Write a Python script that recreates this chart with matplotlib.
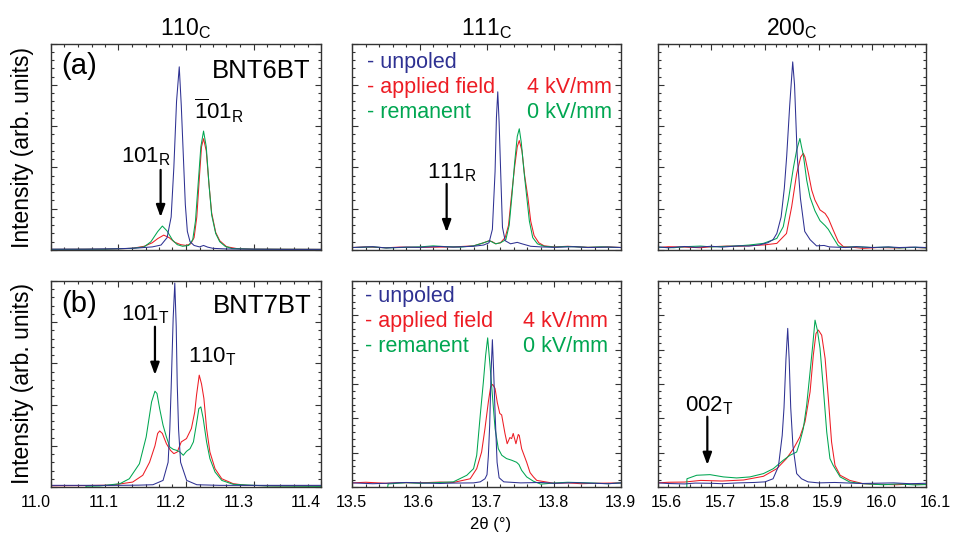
import matplotlib
matplotlib.use('Agg')
import matplotlib.pyplot as plt
from matplotlib.ticker import MultipleLocator, FixedLocator, NullFormatter
from matplotlib.transforms import blended_transform_factory, offset_copy

plt.rcParams['font.family'] = ['Liberation Sans', 'DejaVu Sans']
plt.rcParams['mathtext.fontset'] = 'custom'
plt.rcParams['mathtext.rm'] = 'Liberation Sans'
plt.rcParams['mathtext.it'] = 'Liberation Sans:italic'
plt.rcParams['mathtext.bf'] = 'Liberation Sans:bold'

# ---- (a) BNT6BT, 110c ----
a1_blue_x = [11.00, 11.05, 11.10, 11.13, 11.15, 11.163, 11.172, 11.178, 11.182, 11.186, 11.190, 11.193, 11.196, 11.199, 11.202, 11.206, 11.212, 11.220, 11.226, 11.232, 11.24, 11.26, 11.30, 11.35, 11.40]
a1_blue_y = [0.004, 0.004, 0.006, 0.01, 0.015, 0.024, 0.06, 0.16, 0.40, 0.72, 0.887, 0.70, 0.46, 0.22, 0.09, 0.04, 0.022, 0.015, 0.022, 0.014, 0.008, 0.005, 0.004, 0.003, 0.003]
a1_green_x = [11.00, 11.08, 11.12, 11.138, 11.148, 11.158, 11.165, 11.172, 11.180, 11.187, 11.195, 11.204, 11.210, 11.214, 11.218, 11.222, 11.226, 11.230, 11.234, 11.238, 11.244, 11.250, 11.258, 11.268, 11.30, 11.40]
a1_green_y = [0.003, 0.004, 0.008, 0.015, 0.04, 0.089, 0.116, 0.092, 0.048, 0.026, 0.018, 0.022, 0.05, 0.14, 0.32, 0.50, 0.576, 0.50, 0.32, 0.17, 0.08, 0.04, 0.018, 0.007, 0.004, 0.003]
a1_red_x = [11.00, 11.08, 11.12, 11.138, 11.15, 11.158, 11.167, 11.175, 11.183, 11.192, 11.200, 11.207, 11.212, 11.216, 11.220, 11.223, 11.226, 11.230, 11.234, 11.238, 11.244, 11.250, 11.260, 11.275, 11.30, 11.40]
a1_red_y = [0.003, 0.004, 0.008, 0.018, 0.035, 0.055, 0.072, 0.06, 0.038, 0.026, 0.022, 0.03, 0.06, 0.16, 0.36, 0.50, 0.539, 0.48, 0.32, 0.18, 0.085, 0.045, 0.016, 0.007, 0.004, 0.003]

# ---- (a) 111c ----
a2_blue_x = [13.50, 13.53, 13.55, 13.58, 13.60, 13.63, 13.65, 13.68, 13.695, 13.703, 13.708, 13.712, 13.714, 13.716, 13.718, 13.7205, 13.723, 13.727, 13.735, 13.745, 13.752, 13.765, 13.78, 13.80, 13.83, 13.85, 13.88, 13.90]
a2_blue_y = [0.012, 0.016, 0.010, 0.014, 0.013, 0.017, 0.014, 0.018, 0.024, 0.035, 0.10, 0.38, 0.64, 0.766, 0.62, 0.36, 0.11, 0.045, 0.03, 0.037, 0.03, 0.018, 0.015, 0.013, 0.016, 0.012, 0.014, 0.012]
a2_green_x = [13.50, 13.53, 13.55, 13.58, 13.60, 13.62, 13.64, 13.66, 13.68, 13.695, 13.704, 13.709, 13.713, 13.72, 13.728, 13.733, 13.737, 13.741, 13.745, 13.748, 13.751, 13.755, 13.759, 13.763, 13.768, 13.775, 13.785, 13.80, 13.82, 13.85, 13.87, 13.90]
a2_green_y = [0.012, 0.015, 0.010, 0.013, 0.015, 0.02, 0.016, 0.014, 0.02, 0.035, 0.045, 0.036, 0.03, 0.035, 0.05, 0.12, 0.26, 0.42, 0.55, 0.587, 0.52, 0.38, 0.26, 0.14, 0.06, 0.03, 0.018, 0.014, 0.017, 0.013, 0.015, 0.012]
a2_red_x = [13.50, 13.52, 13.55, 13.57, 13.60, 13.65, 13.68, 13.695, 13.703, 13.708, 13.713, 13.72, 13.727, 13.732, 13.736, 13.741, 13.745, 13.748, 13.752, 13.756, 13.761, 13.765, 13.770, 13.777, 13.785, 13.80, 13.82, 13.85, 13.88, 13.90]
a2_red_y = [0.012, 0.015, 0.011, 0.014, 0.013, 0.015, 0.02, 0.035, 0.045, 0.04, 0.03, 0.035, 0.06, 0.12, 0.25, 0.40, 0.50, 0.53, 0.48, 0.36, 0.25, 0.14, 0.07, 0.035, 0.02, 0.015, 0.018, 0.013, 0.015, 0.012]

# ---- (a) 200c ----
a3_blue_x = [15.60, 15.62, 15.65, 15.67, 15.70, 15.72, 15.75, 15.77, 15.79, 15.805, 15.815, 15.822, 15.830, 15.836, 15.8404, 15.846, 15.8516, 15.855, 15.860, 15.866, 15.874, 15.884, 15.896, 15.91, 15.92, 15.95, 15.97, 16.00, 16.03, 16.05, 16.08, 16.10]
a3_blue_y = [0.015, 0.011, 0.017, 0.013, 0.018, 0.014, 0.02, 0.019, 0.025, 0.035, 0.05, 0.08, 0.16, 0.30, 0.455, 0.70, 0.911, 0.80, 0.455, 0.25, 0.09, 0.05, 0.02, 0.022, 0.015, 0.012, 0.016, 0.012, 0.015, 0.012, 0.014, 0.012]
a3_green_x = [15.60, 15.63, 15.65, 15.68, 15.70, 15.73, 15.75, 15.77, 15.797, 15.822, 15.834, 15.8435, 15.853, 15.859, 15.865, 15.868, 15.8714, 15.8776, 15.884, 15.893, 15.9025, 15.912, 15.918, 15.927, 15.9366, 15.946, 15.97, 16.00, 16.03, 16.05, 16.08, 16.10]
a3_green_y = [0.013, 0.011, 0.016, 0.019, 0.015, 0.018, 0.02, 0.024, 0.032, 0.056, 0.113, 0.242, 0.40, 0.484, 0.54, 0.5, 0.46, 0.339, 0.255, 0.19, 0.142, 0.118, 0.10, 0.06, 0.02, 0.013, 0.016, 0.012, 0.014, 0.010, 0.013, 0.010]
a3_red_x = [15.60, 15.62, 15.65, 15.68, 15.70, 15.73, 15.75, 15.78, 15.80, 15.822, 15.840, 15.8497, 15.859, 15.8665, 15.8714, 15.8745, 15.881, 15.887, 15.893, 15.9025, 15.912, 15.918, 15.927, 15.9366, 15.946, 15.96, 15.983, 16.01, 16.05, 16.07, 16.10]
a3_red_y = [0.012, 0.016, 0.014, 0.011, 0.016, 0.019, 0.018, 0.022, 0.025, 0.032, 0.08, 0.21, 0.37, 0.45, 0.468, 0.45, 0.37, 0.29, 0.242, 0.194, 0.177, 0.153, 0.097, 0.04, 0.016, 0.014, 0.008, 0.012, 0.01, 0.013, 0.01]

# ---- (b) BNT7BT, 110c ----
b1_blue_x = [11.00, 11.05, 11.10, 11.13, 11.151, 11.166, 11.1735, 11.176, 11.178, 11.181, 11.1834, 11.1855, 11.187, 11.189, 11.192, 11.201, 11.216, 11.25, 11.30, 11.40]
b1_blue_y = [0.008, 0.008, 0.008, 0.009, 0.011, 0.032, 0.12, 0.28, 0.48, 0.82, 0.99, 0.78, 0.50, 0.28, 0.12, 0.032, 0.011, 0.008, 0.008, 0.008]
b1_green_x = [11.05, 11.052, 11.072, 11.102, 11.116, 11.131, 11.141, 11.149, 11.154, 11.157, 11.161, 11.166, 11.171, 11.176, 11.181, 11.186, 11.191, 11.196, 11.2007, 11.206, 11.211, 11.2156, 11.219, 11.222, 11.2255, 11.2305, 11.2354, 11.243, 11.253, 11.270, 11.32, 11.40]
b1_green_y = [-0.02, 0.004, 0.005, 0.016, 0.04, 0.113, 0.243, 0.413, 0.465, 0.454, 0.38, 0.30, 0.243, 0.194, 0.183, 0.178, 0.17, 0.154, 0.173, 0.186, 0.219, 0.308, 0.38, 0.389, 0.332, 0.219, 0.138, 0.073, 0.032, 0.013, 0.005, 0.003]
b1_red_x = [11.00, 11.05, 11.09, 11.121, 11.136, 11.146, 11.154, 11.158, 11.161, 11.165, 11.171, 11.177, 11.182, 11.187, 11.193, 11.2007, 11.208, 11.213, 11.2156, 11.2196, 11.223, 11.2265, 11.2305, 11.2354, 11.243, 11.253, 11.270, 11.29, 11.33, 11.40]
b1_red_y = [0.006, 0.007, 0.009, 0.024, 0.057, 0.12, 0.20, 0.26, 0.272, 0.26, 0.21, 0.178, 0.162, 0.17, 0.219, 0.235, 0.284, 0.365, 0.446, 0.543, 0.50, 0.43, 0.284, 0.17, 0.089, 0.04, 0.016, 0.008, 0.006, 0.005]

# ---- (b) 111c ----
b2_blue_x = [13.50, 13.53, 13.55, 13.58, 13.60, 13.63, 13.65, 13.68, 13.69, 13.697, 13.700, 13.702, 13.704, 13.706, 13.708, 13.710, 13.712, 13.715, 13.718, 13.725, 13.75, 13.78, 13.80, 13.83, 13.85, 13.88, 13.90]
b2_blue_y = [0.02, 0.016, 0.018, 0.022, 0.02, 0.017, 0.019, 0.02, 0.025, 0.04, 0.06, 0.15, 0.30, 0.55, 0.715, 0.55, 0.36, 0.12, 0.045, 0.025, 0.02, 0.022, 0.018, 0.021, 0.019, 0.016, 0.02]
b2_green_x = [13.551, 13.553, 13.58, 13.60, 13.63, 13.65, 13.67, 13.68, 13.6847, 13.69, 13.6946, 13.698, 13.701, 13.7045, 13.708, 13.712, 13.7168, 13.722, 13.729, 13.7366, 13.744, 13.7475, 13.7515, 13.759, 13.769, 13.78, 13.7985, 13.82, 13.85, 13.88, 13.90]
b2_green_y = [-0.03, 0.015, 0.021, 0.018, 0.022, 0.025, 0.057, 0.089, 0.154, 0.35, 0.51, 0.64, 0.724, 0.59, 0.446, 0.284, 0.186, 0.154, 0.138, 0.13, 0.12, 0.109, 0.081, 0.049, 0.028, 0.014, 0.019, 0.023, 0.02, 0.016, 0.02]
b2_red_x = [13.50, 13.52, 13.55, 13.57, 13.60, 13.63, 13.65, 13.675, 13.6847, 13.692, 13.697, 13.702, 13.7054, 13.7084, 13.712, 13.7153, 13.719, 13.7218, 13.7267, 13.730, 13.734, 13.7366, 13.739, 13.743, 13.7465, 13.748, 13.7515, 13.759, 13.764, 13.769, 13.774, 13.7886, 13.80, 13.82, 13.84, 13.86, 13.90]
b2_red_y = [0.02, 0.023, 0.018, 0.021, 0.02, 0.024, 0.022, 0.04, 0.089, 0.17, 0.284, 0.413, 0.486, 0.498, 0.478, 0.41, 0.357, 0.35, 0.26, 0.21, 0.24, 0.235, 0.26, 0.21, 0.255, 0.25, 0.186, 0.12, 0.07, 0.049, 0.032, 0.024, 0.018, 0.02, 0.016, 0.018, 0.02]

# ---- (b) 200c ----
b3_blue_x = [15.60, 15.62, 15.65, 15.67, 15.70, 15.72, 15.75, 15.78, 15.80, 15.815, 15.825, 15.832, 15.8354, 15.839, 15.8423, 15.845, 15.8479, 15.852, 15.859, 15.868, 15.88, 15.90, 15.93, 15.95, 15.98, 16.00, 16.04, 16.07, 16.10]
b3_blue_y = [0.02, 0.017, 0.015, 0.019, 0.018, 0.016, 0.02, 0.022, 0.025, 0.04, 0.10, 0.25, 0.385, 0.62, 0.77, 0.62, 0.385, 0.20, 0.065, 0.04, 0.025, 0.02, 0.022, 0.02, 0.017, 0.018, 0.02, 0.016, 0.018]
b3_green_x = [15.654, 15.6545, 15.6727, 15.6975, 15.7224, 15.747, 15.772, 15.797, 15.8155, 15.834, 15.8466, 15.859, 15.865, 15.8714, 15.8776, 15.884, 15.889, 15.8932, 15.8975, 15.9025, 15.9087, 15.915, 15.921, 15.927, 15.94, 15.958, 15.983, 16.02, 16.05, 16.08, 16.10]
b3_green_y = [-0.03, 0.04, 0.057, 0.06, 0.049, 0.044, 0.049, 0.065, 0.089, 0.13, 0.154, 0.17, 0.219, 0.284, 0.397, 0.56, 0.69, 0.81, 0.762, 0.673, 0.478, 0.267, 0.138, 0.105, 0.049, 0.024, 0.016, 0.011, 0.015, 0.01, 0.012]
b3_red_x = [15.60, 15.62, 15.65, 15.68, 15.72, 15.76, 15.797, 15.822, 15.840, 15.853, 15.865, 15.8745, 15.884, 15.890, 15.895, 15.8994, 15.9056, 15.912, 15.918, 15.924, 15.9304, 15.94, 15.958, 15.983, 16.01, 16.045, 16.07, 16.10]
b3_red_y = [0.02, 0.023, 0.024, 0.032, 0.029, 0.034, 0.052, 0.089, 0.138, 0.186, 0.243, 0.316, 0.462, 0.64, 0.745, 0.762, 0.737, 0.624, 0.43, 0.219, 0.105, 0.057, 0.032, 0.016, 0.013, 0.011, 0.014, 0.012]

colTitles = [r'110$_\mathrm{C}$', r'111$_\mathrm{C}$', r'200$_\mathrm{C}$']
xLimits = [(11.0, 11.4), (13.5, 13.9), (15.6, 16.1)]
xTicks = [[11.0, 11.1, 11.2, 11.3, 11.4],
          [13.5, 13.6, 13.7, 13.8, 13.9],
          [15.6, 15.7, 15.8, 15.9, 16.0, 16.1]]
# tick labels sit a little off their ticks in the original figure (pixels)
labelShift = [-15, -1, 9]

colorDict = {
    "unpoled": "#2e3192",
    "applied": "#ed1c24",
    "remanent": "#00a651",
}

dataArr = {
    (0, 0): [(a1_red_x, a1_red_y, "applied"), (a1_green_x, a1_green_y, "remanent"), (a1_blue_x, a1_blue_y, "unpoled")],
    (0, 1): [(a2_red_x, a2_red_y, "applied"), (a2_green_x, a2_green_y, "remanent"), (a2_blue_x, a2_blue_y, "unpoled")],
    (0, 2): [(a3_red_x, a3_red_y, "applied"), (a3_green_x, a3_green_y, "remanent"), (a3_blue_x, a3_blue_y, "unpoled")],
    (1, 0): [(b1_red_x, b1_red_y, "applied"), (b1_green_x, b1_green_y, "remanent"), (b1_blue_x, b1_blue_y, "unpoled")],
    (1, 1): [(b2_red_x, b2_red_y, "applied"), (b2_green_x, b2_green_y, "remanent"), (b2_blue_x, b2_blue_y, "unpoled")],
    (1, 2): [(b3_red_x, b3_red_y, "applied"), (b3_green_x, b3_green_y, "remanent"), (b3_blue_x, b3_blue_y, "unpoled")],
}

# pixel boxes of the axes in the 954x535 picture
W, H = 954.0, 535.0
colPx = [(51, 321), (352.5, 621.5), (657.7, 926)]
rowPx = [(43.5, 250), (281, 487)]

fig = plt.figure(figsize=(9.54, 5.35), dpi=100)
axes = {}
for r in range(2):
    for c in range(3):
        l, rr = colPx[c]
        t, b = rowPx[r]
        ax = fig.add_axes([l / W, 1 - b / H, (rr - l) / W, (b - t) / H])
        axes[(r, c)] = ax
        for xs, ys, key in dataArr[(r, c)]:
            ax.plot(xs, ys, color=colorDict[key], linewidth=0.75)
        ax.set_xlim(*xLimits[c])
        ax.set_ylim(0, 1)
        ax.xaxis.set_major_locator(FixedLocator(xTicks[c]))
        ax.xaxis.set_minor_locator(MultipleLocator(0.02))
        if r == 1 and c > 0:
            ax.yaxis.set_major_locator(MultipleLocator(1 / 6.0))
            ax.yaxis.set_minor_locator(MultipleLocator(1 / 30.0))
        else:
            ax.yaxis.set_major_locator(MultipleLocator(0.2))
            ax.yaxis.set_minor_locator(MultipleLocator(0.04))
        ax.yaxis.set_major_formatter(NullFormatter())
        ax.xaxis.set_major_formatter(NullFormatter())
        if r == 0:
            ax.set_title(colTitles[c], fontsize=16.5, pad=6)
        else:
            tr = offset_copy(blended_transform_factory(ax.transData, ax.transAxes), fig=fig,
                             x=labelShift[c], y=-8, units='dots')
            for v in xTicks[c]:
                ax.text(v, 0, '%.1f' % v, transform=tr, ha='center', va='top', fontsize=11.5)
        ax.tick_params(which='both', direction='in', top=True, right=True, width=0.8, color='#333333')
        ax.tick_params(which='major', length=4.5)
        ax.tick_params(which='minor', length=2.2)
        for s in ax.spines.values():
            s.set_linewidth(1.0)
            s.set_color('#333333')

arrowStyle = dict(arrowstyle='-|>,head_length=0.6,head_width=0.22', color='black', lw=1.6, mutation_scale=12, shrinkA=0, shrinkB=0)

# (a) 110c
ax = axes[(0, 0)]
ax.text(0.037, 0.85, '(a)', transform=ax.transAxes, fontsize=21)
ax.text(0.96, 0.833, 'BNT6BT', transform=ax.transAxes, fontsize=18.5, ha='right')
ax.text(11.103, 0.424, r'101$_\mathrm{R}$', fontsize=16)
ax.text(11.2125, 0.631, r'$\overline{\mathrm{1}}$01$_\mathrm{R}$', fontsize=16)
ax.annotate('', xy=(11.1624, 0.159), xytext=(11.1624, 0.388), arrowprops=arrowStyle)

# (a) 111c
ax = axes[(0, 1)]
ax.text(13.611, 0.348, r'111$_\mathrm{R}$', fontsize=16)
ax.annotate('', xy=(13.640, 0.086), xytext=(13.640, 0.32), arrowprops=arrowStyle)

# (b) 110c
ax = axes[(1, 0)]
ax.text(0.037, 0.851, '(b)', transform=ax.transAxes, fontsize=21)
ax.text(0.967, 0.843, 'BNT7BT', transform=ax.transAxes, fontsize=18.5, ha='right')
ax.text(11.104, 0.811, r'101$_\mathrm{T}$', fontsize=16)
ax.text(11.203, 0.605, r'110$_\mathrm{T}$', fontsize=16)
ax.annotate('', xy=(11.154, 0.544), xytext=(11.154, 0.778), arrowprops=arrowStyle)

# (b) 200c
ax = axes[(1, 2)]
ax.text(15.651, 0.366, r'002$_\mathrm{T}$', fontsize=16)
ax.annotate('', xy=(15.6925, 0.107), xytext=(15.6925, 0.341), arrowprops=arrowStyle)

# legend-like labels in the 111c panels
legendPos = {(0, 1): (0.054, 0.963, [0.882, 0.761, 0.639]), (1, 1): (0.047, 0.95, [0.90, 0.778, 0.657])}
for key, (lx, rx, ys) in legendPos.items():
    ax = axes[key]
    ax.text(lx, ys[0], '- unpoled', color=colorDict["unpoled"], transform=ax.transAxes, fontsize=15.5)
    ax.text(lx, ys[1], '- applied field', color=colorDict["applied"], transform=ax.transAxes, fontsize=15.5)
    ax.text(lx, ys[2], '- remanent', color=colorDict["remanent"], transform=ax.transAxes, fontsize=15.5)
    ax.text(rx, ys[1], '4 kV/mm', color=colorDict["applied"], transform=ax.transAxes, fontsize=15.5, ha='right')
    ax.text(rx, ys[2], '0 kV/mm', color=colorDict["remanent"], transform=ax.transAxes, fontsize=15.5, ha='right')

# axis labels
fig.text(23 / W, 1 - 147 / H, 'Intensity (arb. units)', rotation=90, ha='center', va='center', fontsize=16.5)
fig.text(23 / W, 1 - 384 / H, 'Intensity (arb. units)', rotation=90, ha='center', va='center', fontsize=16.5)
fig.text(491 / W, 1 - 525 / H, '2θ (°)', ha='center', va='center', fontsize=12)

plt.savefig('out.png', dpi=100)
